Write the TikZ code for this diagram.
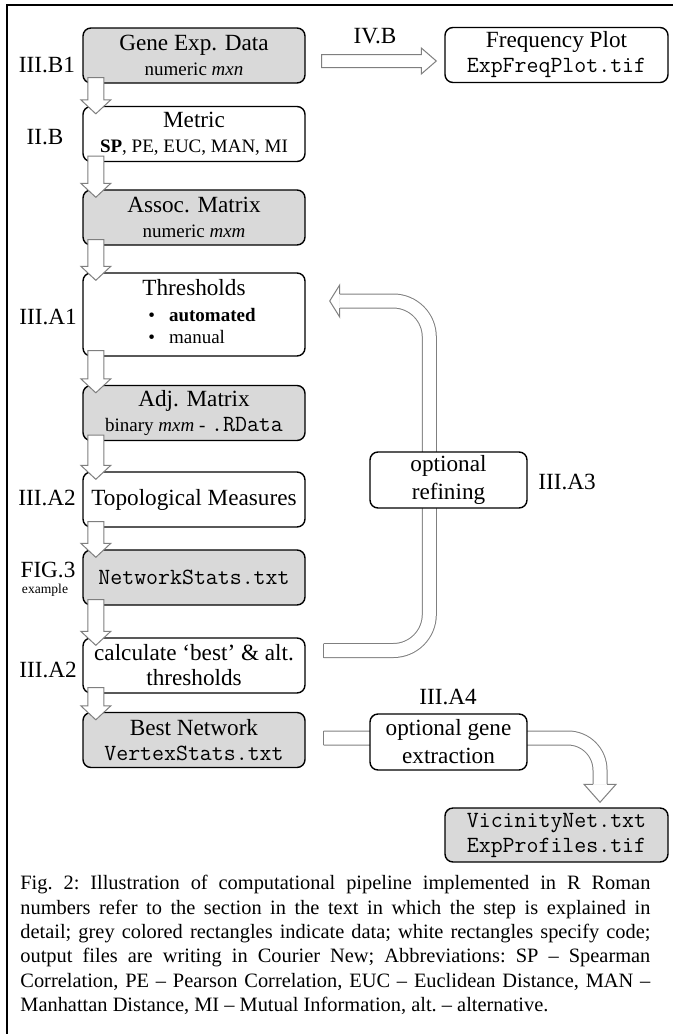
\documentclass[tikz,border=0pt]{standalone}
\usepackage{fontspec}
\setmainfont{Liberation Serif}
\usetikzlibrary{positioning, calc, backgrounds}

\definecolor{datagrey}{HTML}{D9D9D9}
\definecolor{arrowgrey}{HTML}{7F7F7F}

\newcommand\boxfont{\fontsize{11.6pt}{12.5pt}\selectfont}
\newcommand\boxsub{\fontsize{9.5pt}{11pt}\selectfont}
\newcommand\capfont{\fontsize{10.2pt}{12.2pt}\selectfont\frenchspacing}
\newcommand\fname[1]{{\fontsize{11.6pt}{12pt}\selectfont\ttfamily #1}}

% block arrow straight down, bottom of one box into top of the next
\newcommand\flowdown[2]{%
  \path[flowarrow] let \p1=(#1.south west), \p2=(#2.north west) in
    (\x1+2.75pt,\y1+3pt) -- (\x1+10.75pt,\y1+3pt) -- (\x1+10.75pt,\y2+3pt)
    -- (\x1+14.25pt,\y2+3pt) -- (\x1+6.75pt,\y2-4pt) -- (\x1-0.75pt,\y2+3pt)
    -- (\x1+2.75pt,\y2+3pt) -- cycle;}

\begin{document}
\begin{tikzpicture}[x=0.5pt, y=-0.5pt,
    box/.style={draw, line width=0.7pt, rounded corners=4pt, minimum width=111pt,
        minimum height=27.5pt, align=center, inner sep=1pt, font=\boxfont},
    data/.style={box, fill=datagrey},
    code/.style={box, fill=white},
    sect/.style={font=\boxfont, inner sep=0pt},
    flowarrow/.style={draw=arrowgrey, fill=white, line width=0.5pt},
    bigarrow/.style={draw=arrowgrey, line width=0.5pt, double=white,
        double distance=6.5pt, rounded corners=18pt}]
    \useasboundingbox (0,0) rectangle (673,1034);

    % frame
    \draw[line width=1.3pt] (7,1034) -- (7,5) -- (673,5);

    % main pipeline
    \node[data] (gene) at (194,55.5) {Gene Exp. Data\\{\boxsub numeric \textit{mxn}}};
    \node[code] (metric) at (194,134) {Metric\\{\boxsub\textbf{SP}, PE, EUC, MAN, MI}};
    \node[data] (assoc) at (194,217.5) {Assoc. Matrix\\{\boxsub numeric \textit{mxm}}};
    \node[code, minimum height=41.5pt] (thresh) at (194,314.5) {Thresholds\\[0.5pt]\hspace*{8pt}{\boxsub
        \begin{tabular}[t]{@{}l@{}}\textbullet\hspace{7pt}\textbf{automated}\\
        \textbullet\hspace{7pt}manual\end{tabular}}};
    \node[data] (adj) at (194,413) {Adj. Matrix\\{\boxsub binary \textit{mxm} -} \fname{.RData}};
    \node[code] (topo) at (194,499.5) {Topological Measures};
    \node[data] (netstats) at (194,577.5) {\fname{NetworkStats.txt}};
    \node[code] (calc) at (194,665.5) {calculate `best' \& alt.\\thresholds};
    \node[data] (best) at (194,740) {Best Network\\\fname{VertexStats.txt}};

    % side boxes
    \node[code, minimum width=111.5pt] (freq) at (556.5,55) {Frequency Plot\\\fname{ExpFreqPlot.tif}};
    \node[code, minimum width=78.5pt, minimum height=28pt] (refine) at (448.5,480) {optional\\[1.5pt]refining};
    \node[code, minimum width=78.5pt, minimum height=28pt] (extract) at (448.5,742) {optional gene\\[1.5pt]extraction};
    \node[data, minimum width=111.5pt, minimum height=27pt] (vicinity) at (556.5,835) {\fname{VicinityNet.txt}\\\fname{ExpProfiles.tif}};

    % section labels
    \node[sect] (lgene) at (47,65) {III.B1};
    \node[sect] (lmetric) at (45,137) {II.B};
    \node[sect] (lthresh) at (48,317) {III.A1};
    \node[sect] (ltopo) at (47,498) {III.A2};
    \node[sect] (lfig) at (48,570) {FIG.3};
    \node[inner sep=0pt, font=\fontsize{6.8pt}{8pt}\selectfont] (lexample) at (45,590) {example};
    \node[sect] (lcalc) at (48,670) {III.A2};
    \node[sect] (lfreq) at (375,36) {IV.B};
    \node[sect, anchor=west] (lrefine) at (538,482) {III.A3};
    \node[sect] (lextract) at (448,697) {III.A4};

    % long arrows run behind the side boxes
    \begin{pgfonlayer}{background}
        \coordinate (fbstart) at ($(calc.east)+(18,-15)$);
        \coordinate (fbend) at ($(thresh.east)+(34,-13.5)$);
        \coordinate (fbcol) at ($(refine.west)+(60,0)$);
        \draw[bigarrow] (fbstart) -- (fbstart -| fbcol) -- (fbend -| fbcol) -- (fbend);
        \draw[arrowgrey, line width=0.5pt] ($(fbstart)+(0,-7)$) -- ($(fbstart)+(0,7)$);

        \coordinate (exstart) at ($(best.east)+(18,-2)$);
        \coordinate (exend) at ($(vicinity.north)+(43.5,-23)$);
        \draw[bigarrow, rounded corners=16pt] (exstart) -- (exstart -| exend) -- (exend);
        \draw[arrowgrey, line width=0.5pt] ($(exstart)+(0,-7)$) -- ($(exstart)+(0,7)$);
    \end{pgfonlayer}

    % arrow heads of the long arrows
    \path[flowarrow] ($(fbend)+(0,-7)$) -- ++(0,-9) -- ($(fbend)+(-10,0)$)
        -- ($(fbend)+(0,16)$) -- ++(0,-9);
    \path[flowarrow] ($(exend)+(-7,0)$) -- ++(-9,0) -- ($(exend)+(0,18)$)
        -- ($(exend)+(16,0)$) -- ++(-9,0);

    % gene data to frequency plot
    \path[flowarrow] let \p1=(gene.east), \p2=(freq.west) in
        (\x1+8pt,\y1+0.5pt) -- (\x2-11.5pt,\y1+0.5pt) -- (\x2-11.5pt,\y1+3.75pt)
        -- (\x2-4pt,\y1-2.75pt) -- (\x2-11.5pt,\y1-9.25pt) -- (\x2-11.5pt,\y1-6pt)
        -- (\x1+8pt,\y1-6pt) -- cycle;

    % steps of the pipeline
    \foreach \a/\b in {gene/metric, metric/assoc, assoc/thresh, thresh/adj,
        adj/topo, topo/netstats, netstats/calc, calc/best}
        \flowdown{\a}{\b};

    % caption
    \node[anchor=north west, text width=315pt, align=justify, inner sep=0pt, font=\capfont]
        (caption) at (20,875) {Fig. 2: Illustration of computational pipeline implemented in R Roman\linebreak
        numbers refer to the section in the text in which the step is explained in\linebreak
        detail; grey colored rectangles indicate data; white rectangles specify code;\linebreak
        output files are writing in Courier New; Abbreviations: SP -- Spearman\linebreak
        Correlation, PE -- Pearson Correlation, EUC -- Euclidean Distance, MAN --\linebreak
        Manhattan Distance, MI -- Mutual Information, alt. -- alternative.};
\end{tikzpicture}
\end{document}
